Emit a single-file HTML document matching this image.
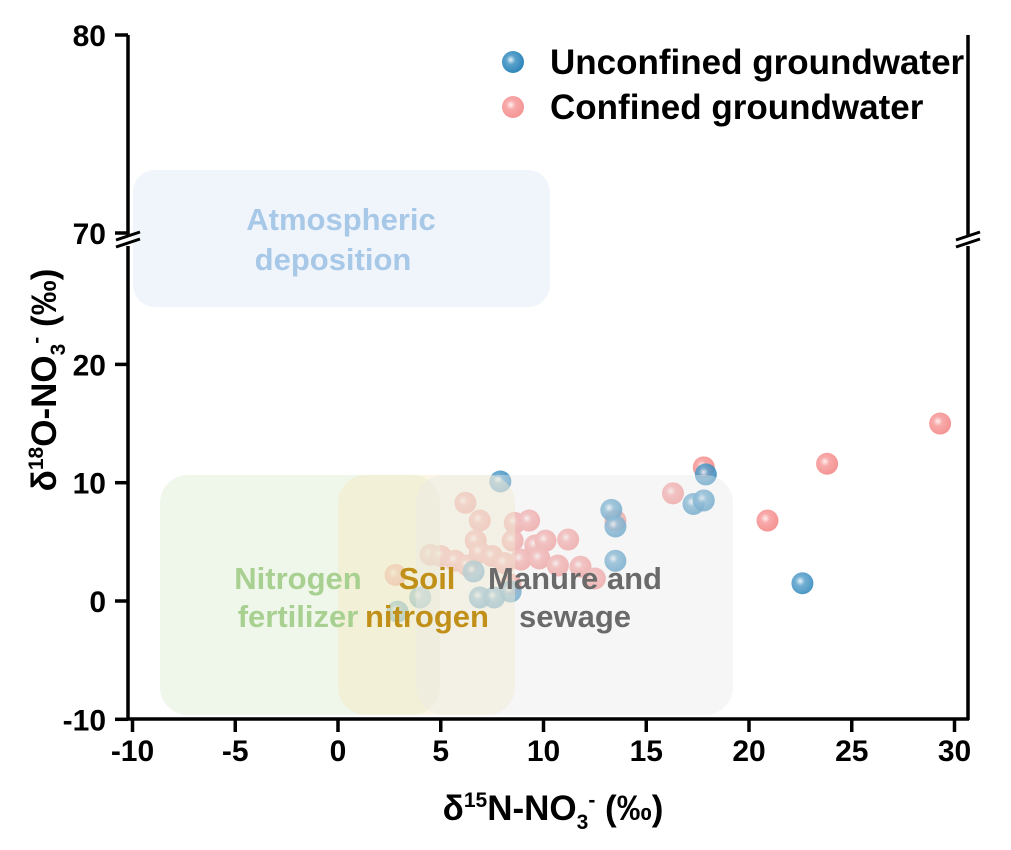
<!DOCTYPE html>
<html><head><meta charset="utf-8"><style>
body{margin:0;background:#fff;}
svg text{font-family:"Liberation Sans",Arial,sans-serif;font-weight:bold;}
</style></head><body>
<svg width="1011" height="845" viewBox="0 0 1011 845">
<defs>
<radialGradient id="gb" cx="0.4" cy="0.4" r="0.6"><stop offset="0" stop-color="#e8f2f8"/><stop offset="0.35" stop-color="#5aa2cc"/><stop offset="1" stop-color="#2f86bb"/></radialGradient>
<radialGradient id="gp" cx="0.4" cy="0.4" r="0.6"><stop offset="0" stop-color="#fff0f0"/><stop offset="0.35" stop-color="#f8a9a9"/><stop offset="1" stop-color="#f59595"/></radialGradient>
</defs>
<g id="regions">
<rect x="133" y="170" width="417" height="137" rx="22" fill="#e6eef8" opacity="0.6"/>
<text x="341" y="230" text-anchor="middle" font-size="31" fill="#a8c8e8">Atmospheric</text>
<text x="333" y="270" text-anchor="middle" font-size="31" fill="#a8c8e8">deposition</text>
</g>
<g id="points"></g>
<g id="lowregions">
<rect x="160" y="475" width="280" height="240" rx="28" fill="#dcebd0" opacity="0.45"/>
<rect x="338" y="475" width="177" height="240" rx="28" fill="#f6ecc0" opacity="0.45"/>
<rect x="416" y="475" width="317" height="240" rx="28" fill="#e8e8e8" opacity="0.4"/>
</g>
<g>
<text x="298" y="589" text-anchor="middle" font-size="31" fill="#a8d090">Nitrogen</text>
<text x="298" y="627" text-anchor="middle" font-size="31" fill="#a8d090">fertilizer</text>
<text x="427" y="589" text-anchor="middle" font-size="31" fill="#c09018">Soil</text>
<text x="427" y="627" text-anchor="middle" font-size="31" fill="#c09018">nitrogen</text>
<text x="575" y="589" text-anchor="middle" font-size="31" fill="#6a6a6a">Manure and</text>
<text x="575" y="627" text-anchor="middle" font-size="31" fill="#6a6a6a">sewage</text>
</g>
<g id="axes" stroke="#000" stroke-width="3.5" fill="none">
<line x1="128" y1="35" x2="128" y2="236"/><line x1="128" y1="246" x2="128" y2="720"/>
<line x1="968" y1="35" x2="968" y2="236"/><line x1="968" y1="246" x2="968" y2="720"/>
<line x1="127" y1="719" x2="969" y2="719"/>
<path d="M116 240 L140 232 M116 247 L140 239" stroke-width="3"/>
<path d="M956 240 L980 232 M956 247 L980 239" stroke-width="3"/>
</g>
<g id="ticks"></g>
<text x="553" y="820" text-anchor="middle" font-size="35">δ<tspan dy="-13" font-size="21">15</tspan><tspan dy="13">N-NO</tspan><tspan dy="9" font-size="21">3</tspan><tspan dy="-22" font-size="21">-</tspan><tspan dy="13"> (‰)</tspan></text>
<text transform="translate(56,380) rotate(-90)" text-anchor="middle" font-size="35">δ<tspan dy="-13" font-size="21">18</tspan><tspan dy="13">O-NO</tspan><tspan dy="9" font-size="21">3</tspan><tspan dy="-22" font-size="21">-</tspan><tspan dy="13"> (‰)</tspan></text>
<g>
<circle cx="513" cy="62" r="11" fill="url(#gb)"/><text x="550" y="74" font-size="35">Unconfined groundwater</text>
<circle cx="513" cy="107" r="11" fill="url(#gp)"/><text x="550" y="119" font-size="35">Confined groundwater</text>
</g>
</svg>
<script>
const xTicks=[-10,-5,0,5,10,15,20,25,30];
const yTicksLow=[-10,0,10,20];
const yTicksHigh=[70,80];
const blueX=[7.9,13.3,13.5,13.5,17.3,17.8,17.9,22.6,4.0,2.9,6.9,7.6,8.4,6.6];
const blueY=[10.1,7.7,6.3,3.4,8.2,8.5,10.7,1.5,0.3,-0.9,0.3,0.3,0.8,2.5];
const pinkX=[29.3,23.8,20.9,17.8,16.3,13.5,6.2,6.9,8.6,9.3,6.7,8.5,9.6,10.1,11.2,4.5,5.0,5.7,6.9,7.5,8.1,8.9,9.8,10.7,11.8,12.5,2.8,8.4,6.3];
const pinkY=[15.0,11.6,6.8,11.3,9.1,6.8,8.3,6.8,6.6,6.8,5.1,5.1,4.7,5.1,5.2,3.9,3.8,3.4,4.1,3.8,3.2,3.5,3.6,3.0,2.9,1.9,2.2,1.4,3.0];
const NS="http://www.w3.org/2000/svg";
function sx(v){return 338+(v)*20.55;}
function sy(v){return v>=50?233-(v-70)*19.8:601-v*11.83;}
const tk=document.getElementById('ticks');
function mk(t,a){const e=document.createElementNS(NS,t);for(const k in a)e.setAttribute(k,a[k]);return e;}
xTicks.forEach(v=>{
 const l=mk('line',{x1:sx(v),x2:sx(v),y1:719,y2:732,stroke:'#000','stroke-width':3.5});
 
 
 tk.appendChild(l);
 const t=mk('text',{x:sx(v),y:761,'text-anchor':'middle','font-size':30});t.textContent=v;
 
 
 tk.appendChild(t);
});
yTicksLow.concat(yTicksHigh).forEach(v=>{
 const y=sy(v);
 const l=mk('line',{x1:115,x2:128,y1:y,y2:y,stroke:'#000','stroke-width':3.5});
 
 
 tk.appendChild(l);
 const t=mk('text',{x:106,y:y+11,'text-anchor':'end','font-size':30});t.textContent=v;
 
 
 tk.appendChild(t);
});
const pts=document.getElementById('points');
pinkX.forEach((v,i)=>{
 const c=mk('circle',{cx:sx(v),cy:sy(pinkY[i]),r:11,fill:'url(#gp)'});
 
 
 pts.appendChild(c);
});
blueX.forEach((v,i)=>{
 const c=mk('circle',{cx:sx(v),cy:sy(blueY[i]),r:11,fill:'url(#gb)',opacity:0.85});
 
 
 pts.appendChild(c);
});
</script>
</body></html>
